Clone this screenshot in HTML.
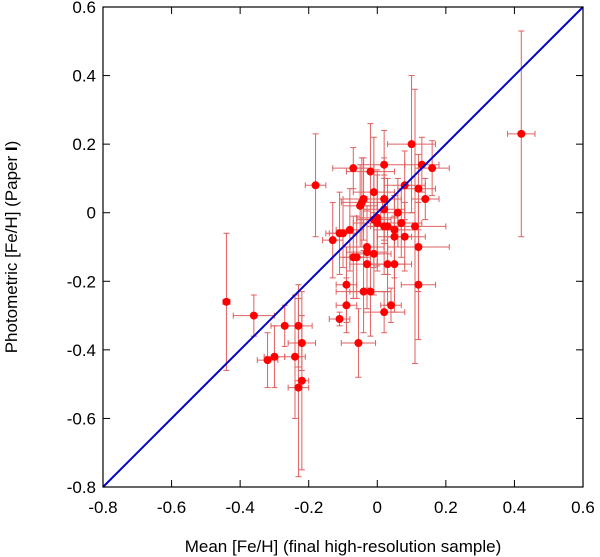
<!DOCTYPE html>
<html><head><meta charset="utf-8"><style>
body{margin:0;background:#fff;}
svg{display:block;font-family:"Liberation Sans",Arial,sans-serif;}
</style></head><body>
<svg id="chart" width="600" height="557" viewBox="0 0 600 557">
<g id="marks"></g>
<line x1="103" y1="487" x2="583" y2="7" stroke="#0000cc" stroke-width="2"/>
<rect x="103" y="7" width="480" height="480" fill="none" stroke="#000" stroke-width="1.2"/>
<g id="axes"></g>
<text x="343" y="552" font-size="17" text-anchor="middle">Mean [Fe/H] (final high-resolution sample)</text>
<text transform="translate(17,247) rotate(-90)" font-size="17" text-anchor="middle">Photometric [Fe/H] (Paper <tspan font-weight="bold">I</tspan>)</text>
</svg>
<script>
const xs=[0.10,0.02,-0.07,-0.02,0.13,0.16,-0.18,0.08,0.12,-0.01,0.14,-0.04,0.02,-0.045,-0.05,0.02,0.06,0.00,-0.01,0.00,0.07,0.02,0.03,0.11,0.05,-0.08,-0.11,-0.10,0.05,0.08,-0.13,-0.03,0.12,-0.03,-0.01,-0.07,-0.06,-0.03,0.03,0.05,-0.09,0.12,-0.04,-0.02,-0.09,0.04,0.02,-0.11,-0.36,-0.27,-0.23,-0.44,-0.22,-0.32,-0.30,-0.24,-0.22,-0.23,-0.055,0.42];
const ys=[0.20,0.14,0.13,0.12,0.14,0.13,0.08,0.08,0.07,0.06,0.04,0.04,0.04,0.03,0.02,0.01,0.00,-0.015,-0.02,-0.03,-0.03,-0.04,-0.04,-0.04,-0.05,-0.05,-0.06,-0.06,-0.07,-0.07,-0.08,-0.10,-0.10,-0.115,-0.12,-0.13,-0.13,-0.15,-0.15,-0.15,-0.21,-0.21,-0.23,-0.23,-0.27,-0.27,-0.29,-0.31,-0.30,-0.33,-0.33,-0.26,-0.38,-0.43,-0.42,-0.42,-0.49,-0.51,-0.38,0.23];
const xerr=[0.07,0.06,0.06,0.07,0.05,0.05,0.03,0.06,0.05,0.06,0.04,0.06,0.05,0.06,0.05,0.06,0.05,0.06,0.05,0.07,0.06,0.05,0.05,0.09,0.06,0.04,0.04,0.04,0.05,0.06,0.03,0.05,0.09,0.06,0.05,0.04,0.04,0.05,0.05,0.05,0.03,0.05,0.08,0.06,0.03,0.03,0.06,0.03,0.06,0.04,0.04,0.01,0.04,0.03,0.03,0.03,0.02,0.03,0.05,0.04];
const yerr=[0.20,0.10,0.06,0.14,0.08,0.08,0.15,0.10,0.10,0.16,0.06,0.12,0.12,0.13,0.12,0.10,0.10,0.14,0.14,0.14,0.10,0.14,0.14,0.40,0.10,0.12,0.12,0.10,0.12,0.10,0.11,0.12,0.13,0.12,0.12,0.12,0.12,0.13,0.12,0.14,0.11,0.16,0.12,0.13,0.08,0.05,0.06,0.02,0.06,0.06,0.12,0.20,0.08,0.08,0.09,0.18,0.26,0.26,0.10,0.30];
const xTicks=[-0.8,-0.6,-0.4,-0.2,0,0.2,0.4,0.6];
const yTicks=[-0.8,-0.6,-0.4,-0.2,0,0.2,0.4,0.6];
const X=v=>103+(v+0.8)*480/1.4, Y=v=>7+(0.6-v)*480/1.4;
const NS='http://www.w3.org/2000/svg';
function mk(t,a,p){const e=document.createElementNS(NS,t);for(const k in a)e.setAttribute(k,a[k]);p.appendChild(e);return e;}
const m=document.getElementById('marks');
for(let i=0;i<xs.length;i++){
 const g=mk('g',{stroke:'#e06060','stroke-width':1},m);
 
 
 const cx=X(xs[i]),cy=Y(ys[i]),x0=X(xs[i]-xerr[i]),x1=X(xs[i]+xerr[i]),y0=Y(ys[i]+yerr[i]),y1=Y(ys[i]-yerr[i]);
 mk('line',{x1:x0,y1:cy,x2:x1,y2:cy},g);mk('line',{x1:cx,y1:y0,x2:cx,y2:y1},g);
 mk('line',{x1:x0,y1:cy-3,x2:x0,y2:cy+3},g);mk('line',{x1:x1,y1:cy-3,x2:x1,y2:cy+3},g);
 mk('line',{x1:cx-3,y1:y0,x2:cx+3,y2:y0},g);mk('line',{x1:cx-3,y1:y1,x2:cx+3,y2:y1},g);
}
for(let i=0;i<xs.length;i++){
 const c=mk('circle',{cx:X(xs[i]),cy:Y(ys[i]),r:4,fill:'#ff0000'},m);
 
 
}
const ax=document.getElementById('axes');
const fmt=v=>v===0?'0':String(v);
xTicks.forEach(v=>{
 mk('line',{x1:X(v),y1:487,x2:X(v),y2:480,stroke:'#000'},ax);
 mk('line',{x1:X(v),y1:7,x2:X(v),y2:14,stroke:'#000'},ax);
 const t=mk('text',{x:X(v),y:513,'font-size':17,'text-anchor':'middle'},ax);t.textContent=fmt(v);
 
 
});
yTicks.forEach(v=>{
 mk('line',{x1:103,y1:Y(v),x2:110,y2:Y(v),stroke:'#000'},ax);
 mk('line',{x1:583,y1:Y(v),x2:576,y2:Y(v),stroke:'#000'},ax);
 const t=mk('text',{x:96,y:Y(v)+6,'font-size':17,'text-anchor':'end'},ax);t.textContent=fmt(v);
 
 
});
</script>
</body></html>
